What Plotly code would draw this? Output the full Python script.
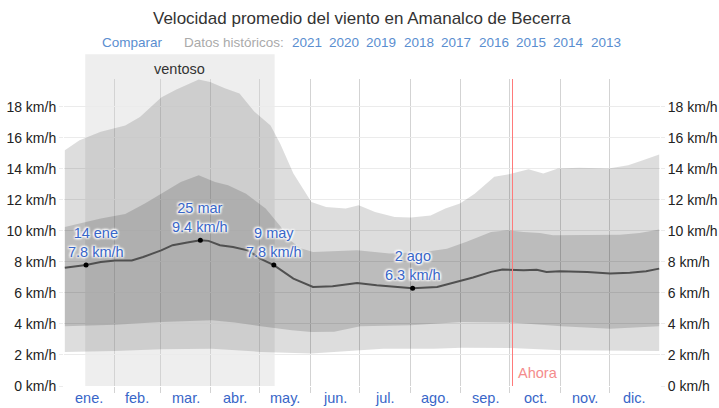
import pandas as pd
import plotly.graph_objects as go

YEAR = 2023
FONT = "Liberation Sans, Arial, sans-serif"

# ---- data (km/h), daily climatology ----
median_dates = ["01-01", "01-14", "01-23", "02-01", "02-11", "02-18", "03-01", "03-08",
                "03-17", "03-25", "03-30", "04-06", "04-14", "04-23", "05-01", "05-09",
                "05-21", "06-02", "06-14", "06-29", "07-11", "07-23", "08-02", "08-17",
                "08-29", "09-08", "09-19", "09-26", "10-09", "10-17", "10-23", "10-31",
                "11-17", "12-01", "12-13", "12-23", "12-31"]
median_kmh = [7.62, 7.8, 8.0, 8.1, 8.1, 8.32, 8.75, 9.08,
              9.25, 9.4, 9.36, 9.08, 8.97, 8.75, 8.2, 7.8,
              6.93, 6.39, 6.43, 6.65, 6.5, 6.39, 6.3, 6.39,
              6.71, 7.0, 7.36, 7.51, 7.46, 7.5, 7.36, 7.4,
              7.36, 7.25, 7.3, 7.4, 7.57]

p75_dates = ["01-01", "01-23", "02-07", "02-19", "03-01", "03-13", "03-24", "04-03",
             "04-11", "04-22", "05-04", "05-13", "05-19", "05-25", "06-02", "06-29",
             "07-19", "08-09", "08-23", "09-04", "09-19", "09-29", "10-09", "10-19",
             "10-27", "11-17", "12-07", "12-19", "12-31"]
p75_kmh = [10.26, 10.8, 11.1, 11.77, 12.4, 13.16, 13.6, 13.16,
           12.95, 12.4, 11.45, 10.3, 9.4, 8.9, 8.65, 8.75,
           8.54, 8.65, 8.86, 9.3, 9.94, 10.05, 9.94, 9.87,
           9.72, 9.72, 9.75, 9.87, 10.09]

p25_dates = ["01-01", "02-01", "03-01", "04-01", "04-15", "05-01", "05-20", "06-01",
             "06-15", "07-01", "08-01", "09-01", "10-01", "11-01", "12-01", "12-31"]
p25_kmh = [3.85, 3.95, 4.13, 4.24, 4.1, 3.85, 3.6, 3.48,
           3.5, 3.85, 3.92, 4.13, 4.1, 3.85, 3.7, 3.85]

p90_dates = ["01-01", "01-10", "01-23", "02-01", "02-07", "02-16", "03-01", "03-10",
             "03-24", "03-31", "04-09", "04-18", "04-27", "05-07", "05-13", "05-21",
             "06-01", "06-10", "06-22", "06-30", "07-10", "07-22", "08-01", "08-13",
             "08-22", "08-31", "09-09", "09-21", "09-30", "10-12", "10-21", "10-30",
             "11-12", "11-30", "12-12", "12-21", "12-31"]
p90_kmh = [15.2, 15.85, 16.4, 16.65, 16.8, 17.35, 18.6, 19.1,
           19.77, 19.6, 19.2, 18.86, 17.7, 16.8, 15.6, 13.7,
           11.87, 11.55, 11.45, 11.66, 11.23, 10.9, 10.86, 11.0,
           11.45, 11.77, 12.4, 13.5, 13.66, 13.98, 13.7, 14.03,
           14.08, 14.03, 14.24, 14.56, 14.93]

p10_dates = ["01-01", "02-01", "03-01", "04-01", "05-01", "06-01", "07-01", "07-15",
             "08-15", "09-01", "10-01", "11-01", "12-01", "12-31"]
p10_kmh = [2.2, 2.25, 2.37, 2.4, 2.2, 2.09, 2.3, 2.4,
           2.4, 2.46, 2.45, 2.3, 2.27, 2.25]

key_dates = ["01-14", "03-25", "05-09", "08-02"]
key_kmh = [7.8, 9.4, 7.8, 6.3]
key_labels = ["14 ene", "25 mar", "9 may", "2 ago"]
key_xshift = [10, 0, 0, 0]

windy_start, windy_end = "01-14", "05-10"
now_date = "10-02 16:00"

month_names = ["ene.", "feb.", "mar.", "abr.", "may.", "jun.",
               "jul.", "ago.", "sep.", "oct.", "nov.", "dic."]
y_ticks = [0, 2, 4, 6, 8, 10, 12, 14, 16, 18]
years = ["2021", "2020", "2019", "2018", "2017", "2016", "2015", "2014", "2013"]

TITLE = "Velocidad promedio del viento en Amanalco de Becerra"


def day(mmdd):
    return f"{YEAR}-{mmdd} 12:00" if " " not in mmdd else f"{YEAR}-{mmdd}"


def dates(lst):
    return [day(m) for m in lst]


# ---- styling ----
OUTER_FILL = "rgba(0,0,0,0.135)"
INNER_FILL = "rgba(0,0,0,0.15)"
VGRID = "#d3d3d3"
HGRID = "#ebebeb"
BLUE = "#3866c8"
LINK = "#5a8ed0"
Y_MAX = 19.8

# plot area in pixels (for placing header items)
L, R, T, B, W, H = 64, 59, 79, 22, 719, 408
PW, PH = W - L - R, H - T - B


def px_x(px):
    return (px - L) / PW


def px_y(py):
    return (H - B - py) / PH


fig = go.Figure()

# 10th-90th percentile band
fig.add_trace(go.Scatter(
    x=dates(p90_dates) + dates(p10_dates)[::-1],
    y=p90_kmh + p10_kmh[::-1],
    fill="toself", fillcolor=OUTER_FILL, line=dict(width=0),
    mode="lines", hoverinfo="skip"))

# 25th-75th percentile band
fig.add_trace(go.Scatter(
    x=dates(p75_dates) + dates(p25_dates)[::-1],
    y=p75_kmh + p25_kmh[::-1],
    fill="toself", fillcolor=INNER_FILL, line=dict(width=0),
    mode="lines", hoverinfo="skip"))

# median
fig.add_trace(go.Scatter(
    x=dates(median_dates), y=median_kmh, mode="lines",
    line=dict(color="#505050", width=2), hoverinfo="skip"))

# key days (on the right-hand axis, which mirrors the left one)
fig.add_trace(go.Scatter(
    x=dates(key_dates), y=key_kmh, mode="markers", yaxis="y2",
    marker=dict(color="#000000", size=5), hoverinfo="skip"))

shadow = "1px 1px 2px #fff, -1px -1px 2px #fff, 1px -1px 2px #fff, -1px 1px 2px #fff, 0 0 3px #fff"
for dt, v, lab, xs in zip(key_dates, key_kmh, key_labels, key_xshift):
    fig.add_annotation(
        x=day(dt), y=v, xref="x", yref="y",
        text=f"{lab}<br>{v:.1f} km/h", showarrow=False,
        xanchor="center", yanchor="bottom", yshift=3, xshift=xs,
        font=dict(family=FONT, size=14.5, color=BLUE, shadow=shadow))

# windy season
fig.add_shape(type="rect", layer="below", xref="x", yref="paper",
              x0=f"{YEAR}-{windy_start}", x1=f"{YEAR}-{windy_end}",
              y0=0, y1=px_y(54.3), fillcolor="#eeeeee", line=dict(width=0))
fig.add_annotation(
    x=pd.Timestamp(f"{YEAR}-{windy_start}") + (pd.Timestamp(f"{YEAR}-{windy_end}") - pd.Timestamp(f"{YEAR}-{windy_start}")) / 2,
    y=px_y(68.5), xref="x", yref="paper", text="ventoso", showarrow=False,
    yanchor="middle", font=dict(family=FONT, size=14.5, color="#333333"))

# "now" marker
fig.add_shape(type="line", layer="above", xref="x", yref="paper",
              x0=day(now_date), x1=day(now_date), y0=0, y1=1,
              line=dict(color="#ff7a7a", width=1))
fig.add_annotation(x=day(now_date), y=px_y(373.3), xref="x", yref="paper",
                   text="Ahora", showarrow=False, xanchor="left", xshift=3,
                   yanchor="middle", font=dict(family=FONT, size=14.5, color="#f48c8c"))

# month labels centred in each month
month_starts = pd.date_range(f"{YEAR}-01-01", periods=13, freq="MS")
for i, name in enumerate(month_names):
    mid = month_starts[i] + (month_starts[i + 1] - month_starts[i]) / 2
    fig.add_annotation(x=mid, y=0, xref="x", yref="paper", text=name,
                       showarrow=False, yanchor="middle", yshift=-11.5,
                       font=dict(family=FONT, size=14.5, color=BLUE))

# header
fig.add_annotation(x=0.5, y=px_y(18.3), xref="paper", yref="paper", text=TITLE,
                   showarrow=False, xanchor="center", yanchor="middle",
                   font=dict(family=FONT, size=17, color="#333333"))
fig.add_annotation(x=px_x(132.5), y=px_y(42.7), xref="paper", yref="paper",
                   text="Comparar", showarrow=False, xanchor="center", yanchor="middle",
                   font=dict(family=FONT, size=13.5, color=LINK))
fig.add_annotation(x=px_x(234.2), y=px_y(42.7), xref="paper", yref="paper",
                   text="Datos históricos:", showarrow=False, xanchor="center", yanchor="middle",
                   font=dict(family=FONT, size=13.5, color="#aaaaaa"))
for i, yr in enumerate(years):
    fig.add_annotation(x=px_x(306.5 + 37.45 * i), y=px_y(42.7), xref="paper", yref="paper",
                       text=yr, showarrow=False, xanchor="center", yanchor="middle",
                       font=dict(family=FONT, size=13.5, color=LINK))

yaxis_common = dict(range=[0, Y_MAX], tickmode="array", tickvals=y_ticks,
                    ticktext=[f"{v} km/h" for v in y_ticks],
                    ticks="outside", ticklen=4, tickcolor=HGRID,
                    zeroline=False, showline=False, fixedrange=True, automargin=False,
                    tickfont=dict(family=FONT, size=14, color="#222222"))

fig.update_layout(
    width=W, height=H,
    margin=dict(l=L, r=R, t=T, b=B, pad=0, autoexpand=False),
    paper_bgcolor="white", plot_bgcolor="white",
    showlegend=False,
    font=dict(family=FONT, size=14, color="#333333"),
    xaxis=dict(type="date", range=[f"{YEAR}-01-01", f"{YEAR + 1}-01-01"],
               tickmode="array", tickvals=list(month_starts[1:12]),
               ticktext=[""] * 11, ticks="outside", ticklen=6, tickcolor=VGRID,
               showgrid=True, gridcolor=VGRID, gridwidth=1, automargin=False,
               zeroline=False, showline=False, fixedrange=True),
    yaxis=dict(showgrid=True, gridcolor=HGRID, gridwidth=1, **yaxis_common),
    yaxis2=dict(overlaying="y", side="right", showgrid=False, **yaxis_common),
)

fig.write_html("out.html", config={"displayModeBar": False})
